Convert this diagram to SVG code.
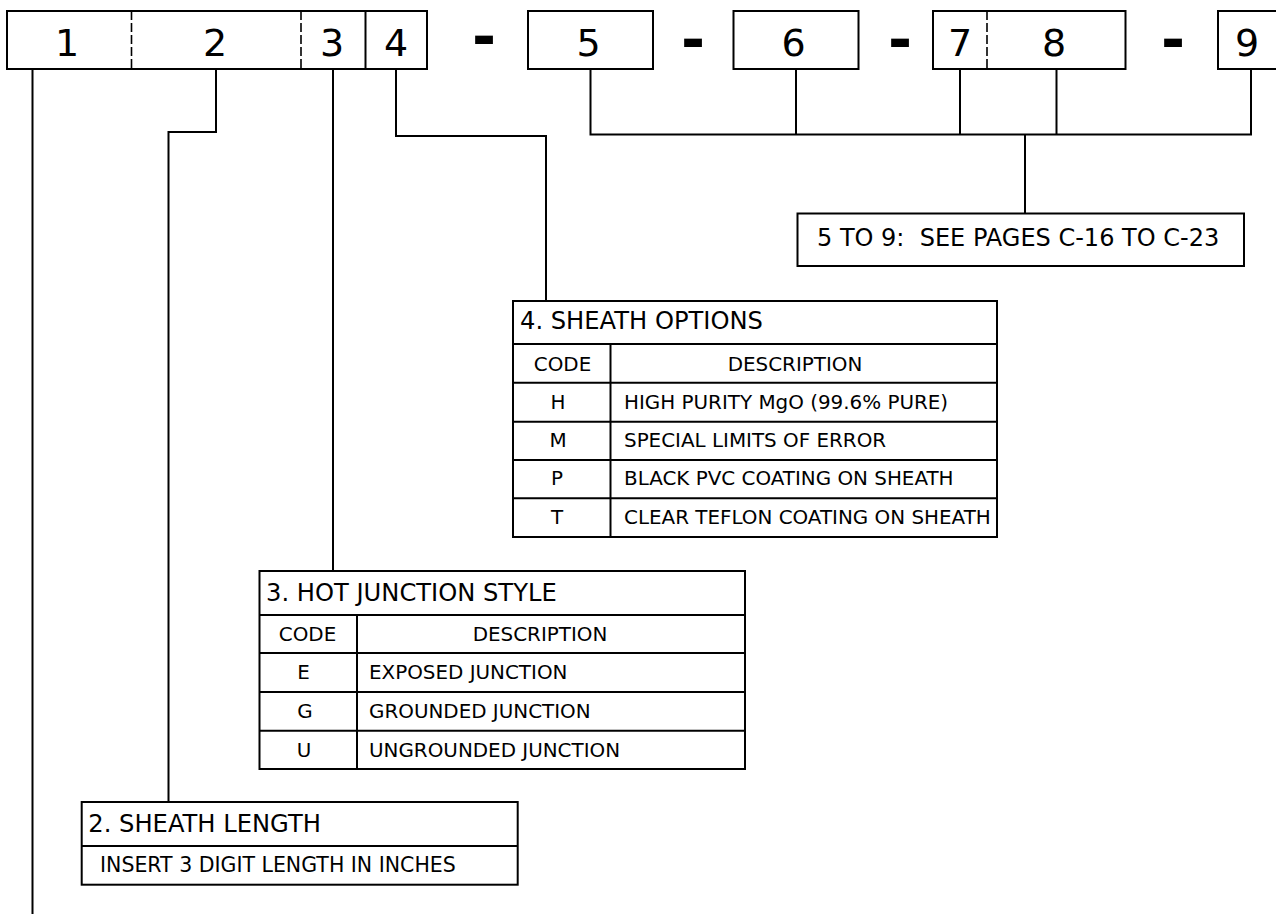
<svg xmlns="http://www.w3.org/2000/svg" width="1276" height="914" viewBox="0 0 1276 914">
<style>
  .bx { fill: #fff; stroke: #000; stroke-width: 2; }
  .ln { fill: none; stroke: #000; stroke-width: 2; }
  .dv { fill: none; stroke: #000; stroke-width: 1.6; stroke-dasharray: 9 3; }
  .dig { font-family: "DejaVu Sans", Verdana, sans-serif; font-size: 38px; fill: #000; text-anchor: middle; }
  .dash { font-family: "DejaVu Sans", sans-serif; font-size: 58px; font-weight: bold; fill: #000; text-anchor: middle; }
  .ttl { font-family: "DejaVu Sans", Verdana, sans-serif; font-size: 24.2px; fill: #000; }
  .txt { font-family: "DejaVu Sans", Verdana, sans-serif; font-size: 19.9px; fill: #000; }
  .ctr { text-anchor: middle; }
  .note { font-family: "DejaVu Sans", Verdana, sans-serif; font-size: 24px; fill: #000; white-space: pre; }
</style>

<g id="connectors">
  <polyline class="ln" points="32.5,69 32.5,914"/>
  <polyline class="ln" points="216,69 216,132 168.5,132 168.5,802"/>
  <polyline class="ln" points="333,69 333,571"/>
  <polyline class="ln" points="396,69 396,136 546,136 546,301"/>
  <polyline class="ln" points="590.5,69 590.5,134.5 1251,134.5 1251,69"/>
  <line class="ln" x1="796" y1="69" x2="796" y2="134.5"/>
  <line class="ln" x1="960" y1="69" x2="960" y2="134.5"/>
  <line class="ln" x1="1056.5" y1="69" x2="1056.5" y2="134.5"/>
  <line class="ln" x1="1025" y1="134.5" x2="1025" y2="213.5"/>
</g>

<g id="code-1-4">
  <rect class="bx" x="7" y="11" width="420" height="58"/>
  <line class="dv" x1="131.5" y1="11" x2="131.5" y2="69"/>
  <line class="dv" x1="301" y1="11" x2="301" y2="69"/>
  <line class="ln" x1="365.5" y1="11" x2="365.5" y2="69"/>
  <text class="dig" x="67" y="56">1</text>
  <text class="dig" x="215" y="56">2</text>
  <text class="dig" x="332" y="56">3</text>
  <text class="dig" x="396" y="56">4</text>
</g>

<g id="sep-1"><text class="dash" x="484" y="57">-</text></g>

<g id="code-5">
  <rect class="bx" x="528" y="11" width="125" height="58"/>
  <text class="dig" x="588.5" y="56">5</text>
</g>

<g id="sep-2"><text class="dash" x="693" y="60">-</text></g>

<g id="code-6">
  <rect class="bx" x="733.5" y="11" width="125" height="58"/>
  <text class="dig" x="793.5" y="56">6</text>
</g>

<g id="sep-3"><text class="dash" x="900" y="60">-</text></g>

<g id="code-7-8">
  <rect class="bx" x="933" y="11" width="192.5" height="58"/>
  <line class="dv" x1="987" y1="11" x2="987" y2="69"/>
  <text class="dig" x="960" y="56">7</text>
  <text class="dig" x="1054" y="56">8</text>
</g>

<g id="sep-4"><text class="dash" x="1173" y="60">-</text></g>

<g id="code-9">
  <rect class="bx" x="1218" y="11" width="80" height="58"/>
  <text class="dig" x="1247" y="56">9</text>
</g>

<g id="note-5-9">
  <rect class="bx" x="797.5" y="213.5" width="446.5" height="52.5"/>
  <text class="note" x="817" y="245.5" xml:space="preserve">5 TO 9:  SEE PAGES C-16 TO C-23</text>
</g>

<g id="table-4">
  <rect class="bx" x="513" y="301" width="484" height="236"/>
  <line class="ln" x1="513" y1="344" x2="997" y2="344"/>
  <line class="ln" x1="513" y1="382.7" x2="997" y2="382.7"/>
  <line class="ln" x1="513" y1="421.7" x2="997" y2="421.7"/>
  <line class="ln" x1="513" y1="460" x2="997" y2="460"/>
  <line class="ln" x1="513" y1="498.3" x2="997" y2="498.3"/>
  <line class="ln" x1="610.5" y1="344" x2="610.5" y2="537"/>
  <text class="ttl" x="520" y="329.3">4. SHEATH OPTIONS</text>
  <text class="txt ctr" x="562.5" y="371">CODE</text>
  <text class="txt ctr" x="795" y="371">DESCRIPTION</text>
  <text class="txt ctr" x="558" y="408.5">H</text>
  <text class="txt" x="624" y="408.5">HIGH PURITY MgO (99.6% PURE)</text>
  <text class="txt ctr" x="558" y="447">M</text>
  <text class="txt" x="624" y="447">SPECIAL LIMITS OF ERROR</text>
  <text class="txt ctr" x="557" y="485">P</text>
  <text class="txt" x="624" y="485">BLACK PVC COATING ON SHEATH</text>
  <text class="txt ctr" x="557" y="523.5">T</text>
  <text class="txt" x="624" y="523.5">CLEAR TEFLON COATING ON SHEATH</text>
</g>

<g id="table-3">
  <rect class="bx" x="259.5" y="571" width="485.5" height="198"/>
  <line class="ln" x1="259.5" y1="615" x2="745" y2="615"/>
  <line class="ln" x1="259.5" y1="653" x2="745" y2="653"/>
  <line class="ln" x1="259.5" y1="692" x2="745" y2="692"/>
  <line class="ln" x1="259.5" y1="730.7" x2="745" y2="730.7"/>
  <line class="ln" x1="357" y1="615" x2="357" y2="769"/>
  <text class="ttl" x="266" y="601">3. HOT JUNCTION STYLE</text>
  <text class="txt ctr" x="307.5" y="641">CODE</text>
  <text class="txt ctr" x="540" y="641">DESCRIPTION</text>
  <text class="txt ctr" x="303.5" y="679">E</text>
  <text class="txt" x="369" y="679">EXPOSED JUNCTION</text>
  <text class="txt ctr" x="305" y="718">G</text>
  <text class="txt" x="369" y="718">GROUNDED JUNCTION</text>
  <text class="txt ctr" x="304" y="756.7">U</text>
  <text class="txt" x="369" y="756.7">UNGROUNDED JUNCTION</text>
</g>

<g id="table-2">
  <rect class="bx" x="81.7" y="802" width="436" height="82.7"/>
  <line class="ln" x1="81.7" y1="846" x2="517.7" y2="846"/>
  <text class="ttl" x="88.3" y="832.3">2. SHEATH LENGTH</text>
  <text class="txt" x="100" y="871.7" style="font-size:20.5px">INSERT 3 DIGIT LENGTH IN INCHES</text>
</g>
</svg>
